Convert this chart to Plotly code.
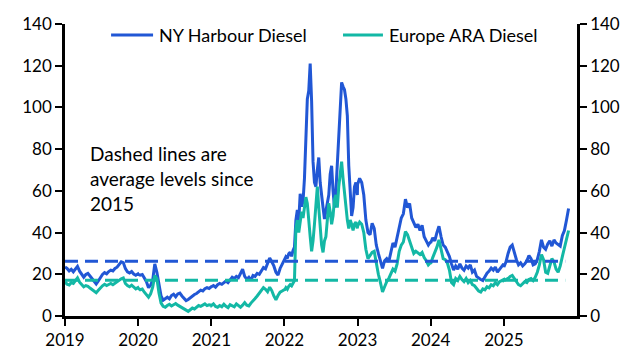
import pandas as pd
import plotly.graph_objects as go

years = [2019, 2020, 2021, 2022, 2023, 2024, 2025]
tick_labels = [str(y) for y in years]
series_names = ["NY Harbour Diesel", "Europe ARA Diesel"]

# NY Harbour diesel (values per year, evenly spaced through each year)
ny_2019 = [23.5, 22.8, 21.6, 22.4, 21.2, 22.5, 23.8, 21.5, 19.8, 18.6, 19.9, 20.4, 19.2, 18.1, 17.0, 15.4, 16.8, 18.6,
           19.9, 20.8, 20.2, 21.3, 22.0, 21.6, 22.8, 23.4, 24.6, 26.0, 25.6, 22.7, 21.2, 20.6, 21.3, 20.1, 19.5, 20.2]
ny_2020 = [20.0, 19.6, 19.9, 18.2, 16.4, 13.6, 14.8, 17.2, 25.0, 21.0, 14.2, 9.6, 7.6, 8.4, 9.0, 8.2, 9.8, 10.4,
           9.2, 10.6, 11.0, 9.6, 8.6, 7.4, 7.9, 8.8, 9.6, 10.3, 10.8, 11.6, 12.4, 12.0, 13.1, 13.6, 13.2, 14.0]
ny_2021 = [14.0, 14.6, 13.8, 15.0, 15.6, 15.2, 16.2, 16.8, 16.0, 17.4, 18.6, 18.0, 19.0, 18.4, 20.2, 22.4, 19.0, 17.6,
           18.6, 17.2, 19.4, 19.0, 20.4, 20.0, 21.6, 23.2, 22.6, 25.0, 27.8, 26.0, 24.0, 21.0, 19.6, 22.8, 24.6, 26.4]
ny_2022 = [26.8, 28.4, 27.6, 29.8, 30.6, 28.6, 31.4, 33.0, 46.0, 50.8, 45.4, 58.6, 52.4, 55.0, 66.0, 90.0, 104.0, 108.0,
           121.0, 103.0, 74.0, 64.0, 62.0, 70.0, 76.0, 64.0, 56.0, 52.0, 46.5, 50.0, 54.0, 58.0, 68.0, 72.0, 60.0, 52.0,
           60.0, 74.0, 88.0, 104.0, 112.0, 110.0, 108.5, 104.0, 96.0, 72.0, 56.0, 48.0, 52.0, 62.0, 64.0, 58.0]
ny_2023 = [63.0, 66.0, 64.0, 58.0, 46.0, 40.0, 39.0, 44.5, 42.0, 34.0, 30.0, 26.0, 22.8, 26.5, 27.5, 26.0, 30.0, 35.0,
           33.0, 38.0, 42.0, 47.0, 49.0, 56.0, 52.0, 54.0, 47.0, 45.0, 42.5, 44.0, 41.0, 43.5, 38.0, 36.0, 34.0, 35.5]
ny_2024 = [35.0, 37.5, 36.0, 40.0, 43.0, 38.0, 34.0, 33.0, 31.0, 28.5, 25.0, 22.0, 24.0, 22.5, 25.0, 23.0, 22.0, 24.0,
           23.0, 24.5, 21.0, 22.0, 19.0, 18.0, 17.5, 17.0, 19.0, 20.5, 21.5, 23.0, 22.0, 23.5, 21.0, 22.5, 23.5, 25.0]
ny_2025 = [23.5, 26.0, 30.0, 33.0, 34.0, 30.0, 27.0, 24.5, 25.5, 24.0, 25.0, 26.5, 29.0, 27.5, 24.5, 25.0, 27.0, 31.0,
           36.5, 33.0, 32.0, 34.5, 36.0, 33.5, 36.5, 35.0, 34.0, 33.5, 38.5, 41.0, 46.0, 51.5]

# Europe ARA diesel
ara_2019 = [16.4, 15.2, 14.9, 16.0, 15.6, 17.2, 18.3, 16.2, 14.8, 14.0, 14.6, 14.2, 13.4, 12.6, 12.0, 11.2, 12.3, 13.6,
            14.5, 15.2, 14.6, 15.1, 15.6, 15.0, 15.8, 16.2, 17.0, 17.8, 18.2, 15.6, 14.6, 14.0, 14.8, 13.8, 13.0, 13.6]
ara_2020 = [13.4, 12.6, 12.9, 11.4, 10.2, 9.0, 10.6, 13.8, 19.4, 18.0, 11.0, 6.2, 4.6, 4.2, 5.0, 5.6, 4.8, 5.4,
            6.0, 5.2, 4.6, 3.8, 3.2, 2.4, 2.2, 3.0, 3.8, 3.4, 4.4, 5.0, 4.6, 5.4, 5.8, 5.0, 5.4, 5.2]
ara_2021 = [5.0, 5.8, 4.6, 4.2, 5.0, 4.4, 5.6, 4.6, 4.0, 5.4, 4.8, 4.4, 5.8, 5.0, 4.2, 5.2, 6.4, 5.2,
            4.8, 6.2, 7.6, 8.4, 9.6, 11.0, 12.4, 13.6, 12.8, 11.6, 13.8, 12.2, 9.6, 7.8, 9.8, 11.4, 12.0, 12.6]
ara_2022 = [12.4, 13.6, 12.8, 14.2, 15.0, 14.4, 16.0, 17.0, 42.0, 46.0, 40.0, 44.0, 50.0, 47.0, 52.0, 57.0, 54.0, 44.0,
            38.0, 31.0, 36.0, 44.0, 56.0, 62.0, 52.0, 42.0, 34.0, 30.5, 36.0, 38.0, 45.0, 54.0, 50.0, 44.0, 48.0, 56.0,
            58.0, 52.0, 62.0, 70.0, 74.0, 66.0, 58.0, 54.0, 46.0, 42.0, 46.0, 44.0, 41.0, 44.0, 45.0, 42.0]
ara_2023 = [43.0, 45.0, 44.0, 40.0, 32.0, 27.5, 29.0, 30.5, 31.0, 25.0, 20.0, 16.0, 11.5, 14.0, 16.5, 18.0, 20.0, 22.5,
            21.5, 25.0, 31.0, 34.0, 35.5, 40.5, 39.0, 36.0, 32.0, 30.0, 31.0, 30.0, 29.5, 30.5, 28.0, 26.5, 24.5, 25.5]
ara_2024 = [25.0, 28.0, 30.5, 33.0, 36.5, 31.0, 27.5, 27.0, 25.5, 22.0, 16.0, 15.0, 18.0, 17.0, 19.0, 17.5, 16.5, 18.0,
            16.0, 17.0, 15.0, 14.5, 13.0, 12.0, 11.5, 13.0, 12.5, 14.0, 13.5, 15.0, 14.5, 16.0, 15.0, 16.5, 17.0, 17.5]
ara_2025 = [17.0, 17.5, 18.0, 19.0, 19.5, 18.0, 16.5, 15.0, 14.5, 15.5, 16.5, 16.0, 17.5, 18.0, 17.0, 18.5, 21.0, 24.5,
            29.5, 27.0, 21.0, 20.5, 24.0, 27.5, 26.0, 22.5, 21.0, 24.0, 28.5, 33.0, 37.0, 41.0]

last_date = "2025-11-20"
ny_avg = 26.2    # average since 2015
ara_avg = 17.1   # average since 2015
avg_span = ["2019-01-01", "2025-11-03"]

BLUE = "#2157d5"
TEAL = "#13b8a5"


def build(series_by_year):
    xs, ys = [], []
    for yr, vals in series_by_year.items():
        end = f"{yr}-12-31" if yr < 2025 else last_date
        xs += list(pd.date_range(f"{yr}-01-01", end, periods=len(vals)))
        ys += vals
    return xs, ys


ny_x, ny_y = build({2019: ny_2019, 2020: ny_2020, 2021: ny_2021, 2022: ny_2022,
                    2023: ny_2023, 2024: ny_2024, 2025: ny_2025})
ara_x, ara_y = build({2019: ara_2019, 2020: ara_2020, 2021: ara_2021, 2022: ara_2022,
                      2023: ara_2023, 2024: ara_2024, 2025: ara_2025})

fig = go.Figure()
fig.add_trace(go.Scatter(x=ny_x, y=ny_y, mode="lines", name=series_names[0],
                         line=dict(color=BLUE, width=3), showlegend=False))
fig.add_trace(go.Scatter(x=ara_x, y=ara_y, mode="lines", name=series_names[1],
                         line=dict(color=TEAL, width=3), showlegend=False))
fig.add_trace(go.Scatter(x=avg_span, y=[ny_avg, ny_avg], mode="lines", showlegend=False,
                         line=dict(color=BLUE, width=3, dash="13px,7px")))
fig.add_trace(go.Scatter(x=avg_span, y=[ara_avg, ara_avg], mode="lines", showlegend=False,
                         line=dict(color=TEAL, width=3, dash="13px,7px")))
fig.add_trace(go.Scatter(x=avg_span, y=[ara_avg, ara_avg], yaxis="y2", mode="lines",
                         showlegend=False, hoverinfo="skip", line=dict(width=0), opacity=0))

axis_common = dict(showline=True, linecolor="black", linewidth=2.5, ticks="outside",
                   ticklen=7, tickwidth=2, tickcolor="black", showgrid=False, zeroline=False,
                   tickfont=dict(size=17, color="black"))

fig.update_layout(
    width=630, height=355,
    margin=dict(l=57, r=61, t=16, b=47, autoexpand=False),
    plot_bgcolor="white", paper_bgcolor="white",
    font=dict(family="Lato", size=17, color="black"),
    showlegend=False,
    xaxis=dict(type="date", range=["2019-01-01", "2026-01-01"],
               tickvals=[f"{y}-01-01" for y in years], ticktext=tick_labels, **axis_common),
    yaxis=dict(range=[0, 140], dtick=20, **axis_common),
    yaxis2=dict(range=[0, 140], dtick=20, overlaying="y", side="right", **axis_common),
)

# legend drawn by hand (longer line keys than plotly's built-in legend)
legend_items = [(series_names[0], BLUE, 0.090, 0.172, 0.180),
                (series_names[1], TEAL, 0.543, 0.621, 0.628)]
for name, col, x0, x1, xt in legend_items:
    fig.add_shape(type="line", xref="paper", yref="paper", x0=x0, x1=x1, y0=0.962, y1=0.962,
                  line=dict(color=col, width=3))
    fig.add_annotation(text=name, xref="paper", yref="paper", x=xt, y=0.962,
                       xanchor="left", yanchor="middle", showarrow=False,
                       font=dict(size=18, color="black"))

note_lines = ["Dashed lines are", "average levels since", "2015"]
note_y = [0.557, 0.472, 0.385]
for txt, yy in zip(note_lines, note_y):
    fig.add_annotation(text=txt, xref="paper", yref="paper", x=0.045, y=yy,
                       xanchor="left", yanchor="middle", showarrow=False,
                       font=dict(size=19, color="black"))

fig.write_html("out.html")
